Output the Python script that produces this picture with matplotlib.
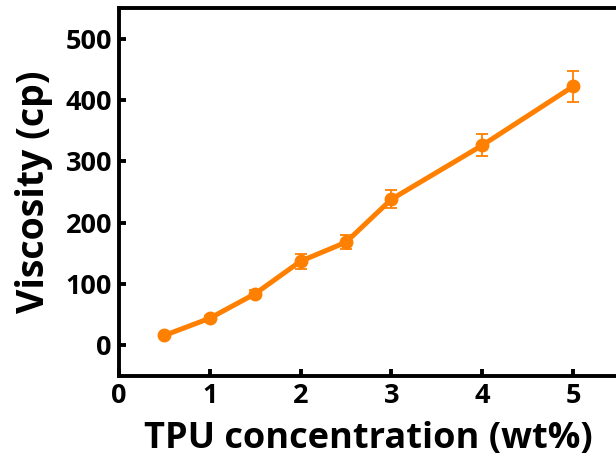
import matplotlib

matplotlib.use("Agg")
import matplotlib.pyplot as plt

# TPU concentration (wt%) vs viscosity (cp).
tpu_wt = [0.5, 1.0, 1.5, 2.0, 2.5, 3.0, 4.0, 5.0]
viscosity = [16, 44, 84, 137, 168, 238, 326, 422]
viscosity_err = [3, 4, 6, 12, 11, 15, 18, 25]

x_ticks = [0, 1, 2, 3, 4, 5]
y_ticks = [0, 100, 200, 300, 400, 500]

ORANGE = "#ff8000"

plt.rcParams["font.family"] = ["Open Sans", "DejaVu Sans"]
plt.rcParams["font.weight"] = "bold"

fig = plt.figure(figsize=(6.16, 4.67), dpi=100)
ax = fig.add_axes([0.193, 0.195, 0.811, 0.788])

ax.errorbar(tpu_wt, viscosity, yerr=viscosity_err, color=ORANGE, lw=3.6,
            marker="o", ms=9, elinewidth=1.3, capsize=4, capthick=1.3)

ax.set_xlim(0, 5.5)
ax.set_ylim(-50, 550)
ax.set_xticks(x_ticks)
ax.set_yticks(y_ticks)

for s in ax.spines.values():
    s.set_linewidth(2.8)
ax.tick_params(direction="in", length=5, width=2.8, labelsize=19.5, pad=5)
for lbl in ax.get_xticklabels() + ax.get_yticklabels():
    lbl.set_fontweight("bold")

ax.set_xlabel("TPU concentration (wt%)", fontsize=26, fontweight="bold", labelpad=9)
ax.set_ylabel("Viscosity (cp)", fontsize=27, fontweight="bold", labelpad=9)

fig.savefig("out.png", dpi=100)
